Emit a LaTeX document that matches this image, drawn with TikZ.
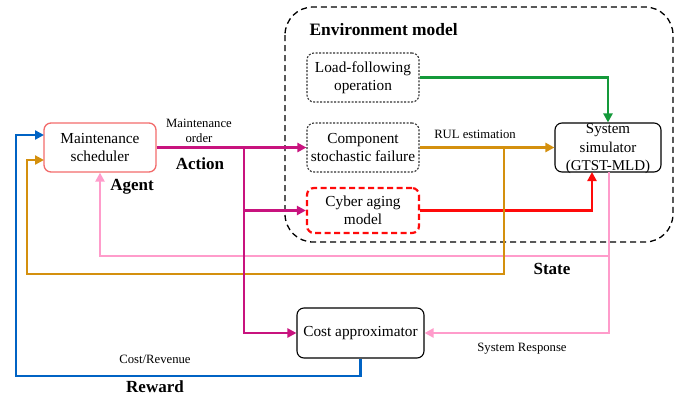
\documentclass[tikz,border=0pt]{standalone}
\usepackage{fontspec}
\setmainfont{Liberation Serif}
\usetikzlibrary{arrows.meta,calc}
\definecolor{cmag}{HTML}{C8137E}
\definecolor{corange}{HTML}{D4900E}
\definecolor{cpink}{HTML}{FF9CCB}
\definecolor{cgreen}{HTML}{14993A}
\definecolor{cred}{HTML}{FF0A0A}
\definecolor{cblue}{HTML}{0063C4}
\definecolor{csalmon}{HTML}{F26B6B}
\tikzset{
  box/.style={rectangle, rounded corners=7pt, align=center, font=\fontsize{15.3}{18.5}\selectfont, inner sep=1pt},
  conn/.style={line width=2.8pt},
  tip/.style={-{Triangle[length=9pt,width=9pt]}},
  small/.style={font=\fontsize{12.7}{15}\selectfont, align=center},
  bold/.style={font=\fontsize{17}{19}\selectfont\bfseries}
}
\begin{document}
\begin{tikzpicture}[x=1pt,y=-1pt]
\useasboundingbox (0,0) rectangle (678,397);
% environment
\draw[line width=1.3pt, rounded corners=28pt, dash pattern=on 6pt off 4pt] (285,7) rectangle (673,242);
\node[font=\fontsize{17.4}{19}\selectfont\bfseries, anchor=west] (envlab) at (306,30) {Environment model};
% nodes
\node[box, draw=csalmon, line width=1.3pt, minimum width=112pt, minimum height=49pt] (sched) at (100,147.5) {Maintenance\\scheduler};
\node[box, draw=black!80, dash pattern=on 2pt off 1.5pt, line width=1.1pt, minimum width=112pt, minimum height=49pt] (load) at (363,77.5) {Load-following\\operation};
\node[box, draw=black!80, dash pattern=on 2pt off 1.5pt, line width=1.1pt, minimum width=112pt, minimum height=49pt] (comp) at (363,147.5) {Component\\stochastic failure};
\node[box, draw=cred, dash pattern=on 6pt off 3.5pt, line width=2.2pt, minimum width=112pt, minimum height=45pt] (cyber) at (363,210.5) {Cyber aging\\model};
\node[box, draw=black, line width=1.1pt, minimum width=106pt, minimum height=49pt] (sim) at (608,147.5) {};
\node[align=center, font=\fontsize{15}{18.5}\selectfont, inner sep=0pt] (simtxt) at (608,149) {System\\simulator\\(GTST-MLD)};
\node[box, draw=black, line width=1.1pt, minimum width=127pt, minimum height=50pt] (cost) at (360.5,333) {Cost approximator};
% labels
\node[small] (mo) at (199,131) {Maintenance\\order};
\node[bold] (action) at (200,164) {Action};
\node[bold] (agent) at (132,187) {Agent};
\node[small] (rul) at (475,134) {RUL estimation};
\node[bold] (state) at (552,269) {State};
\node[small] (sresp) at (522,349) {System Response};
\node[small] (crev) at (155,359) {Cost/Revenue};
\node[bold] (reward) at (155,387) {Reward};
% coordinates
\coordinate (oB) at (504,147.5);
\coordinate (oC) at (27,274);
\coordinate (oIn) at (44,160);
\coordinate (rS) at (592,172);
\coordinate (pS) at (609,172);
\coordinate (pB) at (609,256);
\coordinate (bC) at (16,376);
\coordinate (bIn) at (44,135);
\coordinate (mB) at (244,147.5);
% connectors
\draw[conn, cgreen, tip] (load.east) -| (sim.north);
\draw[conn, cred, tip] (cyber.east) -| (rS);
\draw[conn, cpink, tip] (pS) |- (cost.east);
\draw[conn, cpink, tip] (pB) -| (sched.south);
\draw[conn, corange, tip] (comp.east) -- (sim.west);
\draw[conn, corange, tip] (oB) |- (oC) |- (oIn);
\draw[conn, cblue, tip] (cost.south) |- (bC) |- (bIn);
\draw[conn, cmag, tip] (sched.east) -- (comp.west);
\draw[conn, cmag, tip] (mB) |- (cyber.west);
\draw[conn, cmag, tip] (mB) |- (cost.west);
\end{tikzpicture}
\end{document}
